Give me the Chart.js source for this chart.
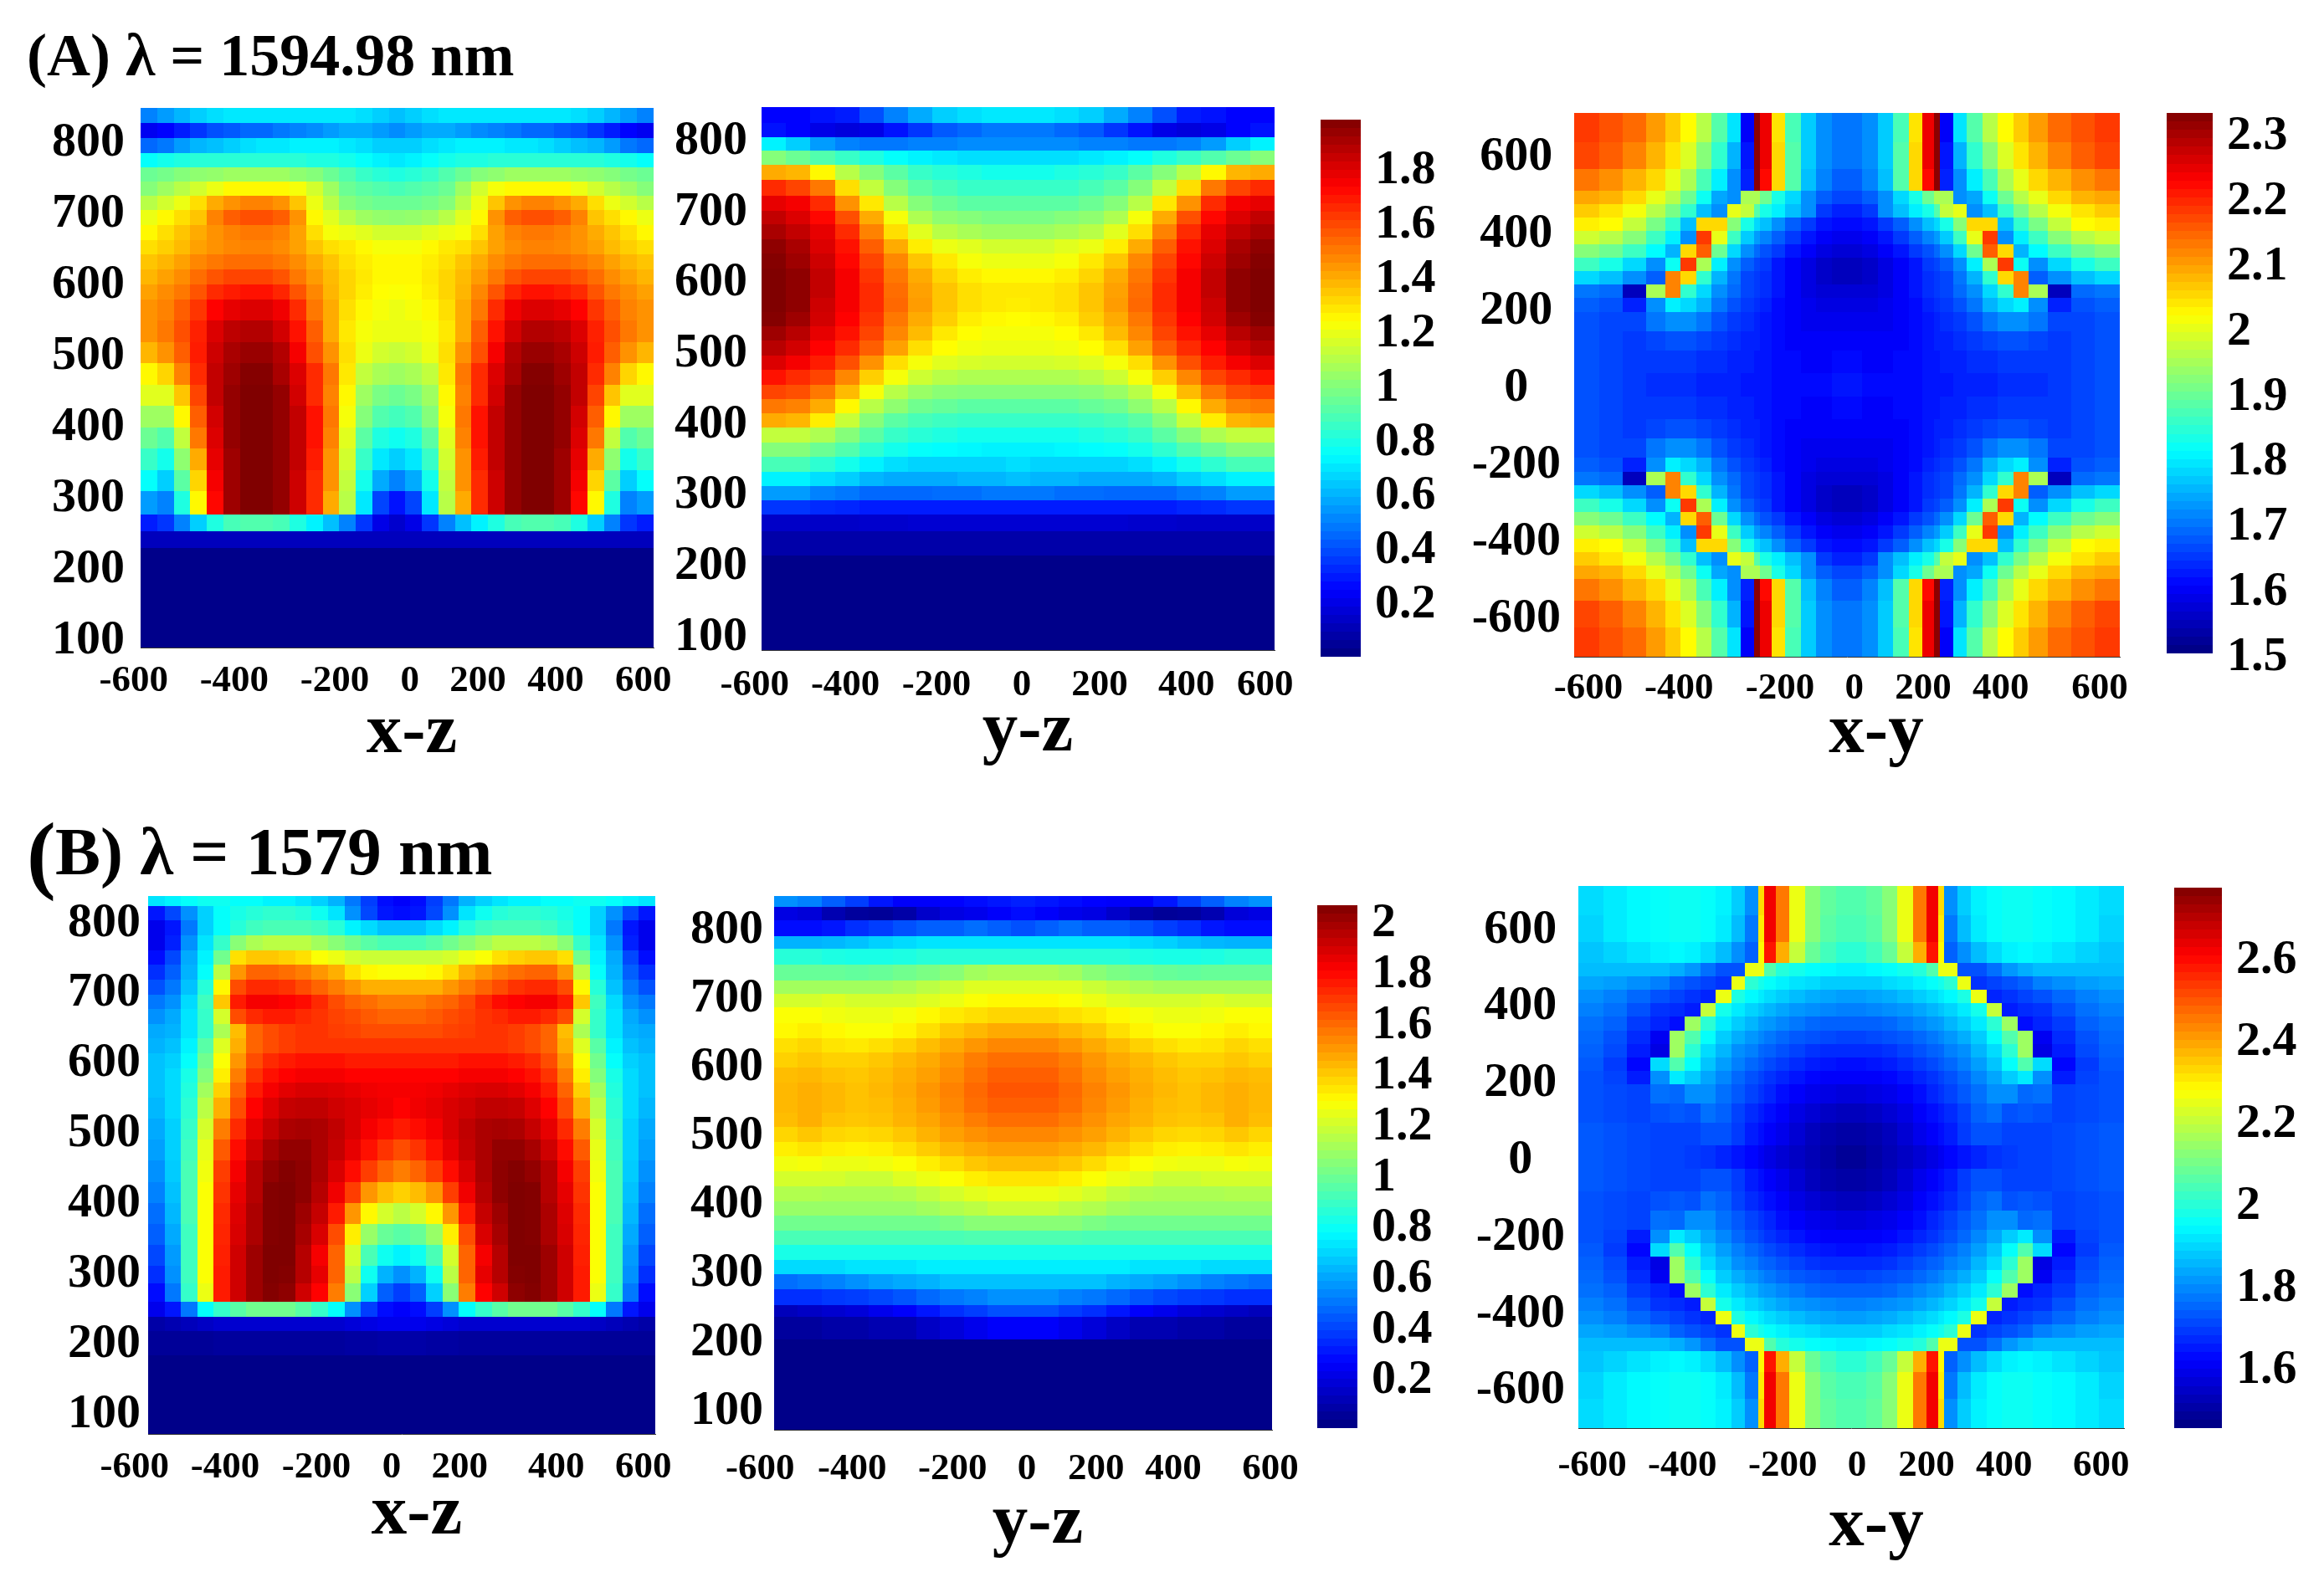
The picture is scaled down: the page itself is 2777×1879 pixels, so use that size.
<!DOCTYPE html>
<html>
<head>
<meta charset="utf-8">
<title>Field maps</title>
<script src="https://cdn.jsdelivr.net/npm/chart.js@4"></script>
<style>
  html, body { margin: 0; padding: 0; background: #fff; }
  #page { position: relative; width: 2777px; height: 1879px; overflow: hidden; font-family: "Liberation Serif", serif; font-weight: bold; color: #000; }
  #page canvas { position: absolute; }
  .lbl { position: absolute; white-space: nowrap; line-height: 1; transform: translate(-50%, -50%); }
  .head { position: absolute; white-space: nowrap; line-height: 1; }
</style>
</head>
<body>
<div id="page"></div>
<script>
// Tick labels
const zTicks = [800, 700, 600, 500, 400, 300, 200, 100];
const xTicks = [-600, -400, -200, 0, 200, 400, 600];
const xyTicks = [600, 400, 200, 0, -200, -400, -600];
const cbTicksA = [1.8, 1.6, 1.4, 1.2, 1, 0.8, 0.6, 0.4, 0.2];
const cbTicksB = [2, 1.8, 1.6, 1.4, 1.2, 1, 0.8, 0.6, 0.4, 0.2];
const cbTicksXyA = [2.3, 2.2, 2.1, 2, 1.9, 1.8, 1.7, 1.6, 1.5];
const cbTicksXyB = [2.6, 2.4, 2.2, 2, 1.8, 1.6];

// Row edges of each map (nm)
const zEdgesAxz = [844,823,802,781,761,740,720,700,679,658,638,617,596,575,545,515,485,455,425,395,365,335,305,272,249,225,85];
const zEdgesAyz = [844,822,802,782,762,741,719,698,678,657,637,616,596,575,555,534,514,493,473,452,432,411,391,370,350,329,309,288,268,245,210,77];
const zEdgesBxz = [834,820,799,778,757,736,715,694,673,652,631,610,589,568,547,517,487,457,427,397,367,337,307,282,256,235,215,180,68];
const zEdgesByz = [845,829,810,787,768,745,722,703,683,660,638,617,595,573,552,530,509,487,466,444,423,401,380,358,337,315,294,272,250,232,200,68];
const xyEdgesX = [-706,-640,-580,-520,-470,-430,-390,-350,-310,-275,-240,-225,-195,-160,-120,-80,-40,0,40,80,120,160,195,225,240,275,310,350,390,430,470,520,580,640,706];
const xyEdgesY = [706,630,560,505,470,435,400,365,330,295,260,225,190,140,90,30,-30,-90,-140,-190,-225,-260,-295,-330,-365,-400,-435,-470,-505,-560,-630,-706];

const fieldAxz = [
[50,55,60,65,68,70,70,70,70,70,70,70,70,68,65,62,65,68,70,70,70,70,70,70,70,70,68,65,60,55,50],
[22,25,30,35,40,42,45,45,48,50,52,55,58,58,55,52,55,58,58,55,52,50,48,45,45,42,40,35,30,25,22],
[45,48,55,60,62,65,68,70,70,72,72,72,70,68,65,65,65,68,70,72,72,72,70,70,68,65,62,60,55,48,45],
[75,78,80,82,82,82,82,82,82,82,80,80,78,75,72,70,72,75,78,80,80,82,82,82,82,82,82,82,80,78,75],
[95,97,100,102,103,105,105,105,105,102,100,95,90,85,82,80,82,85,90,95,100,102,105,105,105,105,103,102,100,97,95],
[100,105,110,115,120,125,125,125,125,122,115,105,95,92,90,88,90,92,95,105,115,122,125,125,125,125,120,115,110,105,100],
[110,115,120,130,140,145,148,148,145,135,120,110,100,97,95,95,95,97,100,110,120,135,145,148,148,145,140,130,120,115,110],
[120,125,130,135,148,155,158,158,155,145,125,118,110,105,103,102,103,105,110,118,125,145,155,158,158,155,148,135,130,125,120],
[125,130,135,140,145,148,150,150,148,142,130,122,120,118,115,115,115,118,120,122,130,142,148,150,150,148,145,140,135,130,125],
[130,133,137,142,145,147,148,148,146,142,135,130,128,125,122,122,122,125,128,130,135,142,146,148,148,147,145,142,137,133,130],
[135,138,142,147,150,152,152,152,150,146,140,135,130,127,125,125,125,127,130,135,140,146,150,152,152,152,150,147,142,138,135],
[138,142,146,152,157,160,160,160,157,150,143,137,132,128,125,125,125,128,132,137,143,150,157,160,160,160,157,152,146,142,138],
[142,146,150,157,165,168,170,170,166,157,147,138,132,127,124,123,124,127,132,138,147,157,166,170,170,168,165,157,150,146,142],
[145,148,155,163,173,178,180,180,176,165,150,140,130,125,122,120,122,125,130,140,150,165,176,180,180,178,173,163,155,148,145],
[145,150,158,167,180,186,188,188,182,170,155,140,128,122,120,120,120,122,128,140,155,170,182,188,188,186,180,167,158,150,145],
[138,145,155,168,183,190,193,193,188,175,158,145,130,120,115,113,115,120,130,145,158,175,188,193,193,190,183,168,155,145,138],
[125,132,148,165,185,192,197,197,190,180,165,150,128,112,107,105,107,112,128,150,165,180,190,197,197,192,185,165,148,132,125],
[118,118,135,160,185,194,198,198,194,182,165,148,125,105,98,95,98,105,125,148,165,182,194,198,198,194,185,160,135,118,118],
[105,105,125,155,182,194,198,198,194,185,170,150,122,100,90,87,90,100,122,150,170,185,194,198,198,194,182,155,125,105,105],
[95,90,112,150,180,194,198,198,194,185,170,148,118,92,80,77,80,92,118,148,170,185,194,198,198,194,180,150,112,90,95],
[85,78,102,140,178,192,198,198,194,185,168,145,115,85,70,65,70,85,115,145,168,185,194,198,198,192,178,140,102,78,85],
[75,65,92,132,175,192,198,198,194,183,165,145,112,78,58,50,58,78,112,145,165,183,194,198,198,192,175,132,92,65,75],
[55,50,80,125,172,192,198,198,194,183,165,140,110,70,38,28,38,70,110,140,165,183,194,198,198,192,172,125,80,50,55],
[30,35,50,65,80,88,90,90,88,80,72,62,50,35,20,15,20,35,50,62,72,80,88,90,90,88,80,65,50,35,30],
[12,12,12,12,12,12,12,12,12,12,12,12,12,12,12,12,12,12,12,12,12,12,12,12,12,12,12,12,12,12,12],
[2,2,2,2,2,2,2,2,2,2,2,2,2,2,2,2,2,2,2,2,2,2,2,2,2,2,2,2,2,2,2]
];

const fieldAyz = [
[25,25,28,30,40,50,58,65,68,70,70,70,68,65,58,50,40,30,28,25,25],
[28,25,20,18,20,28,35,42,45,48,48,48,45,42,35,28,20,18,20,25,28],
[72,65,55,50,48,48,50,50,52,52,52,52,52,50,50,48,48,50,55,65,72],
[100,95,90,85,80,75,72,70,68,68,68,68,68,70,72,75,80,85,90,95,100],
[140,138,125,110,100,92,85,82,80,78,78,78,80,82,85,92,100,110,125,138,140],
[165,160,150,130,112,100,92,88,85,85,85,85,85,88,92,100,112,130,150,160,165],
[178,175,165,145,128,110,100,95,92,92,92,92,92,95,100,110,128,145,165,175,178],
[185,180,172,158,140,122,108,102,100,98,98,98,100,102,108,122,140,158,172,180,185],
[190,185,178,165,148,130,118,110,107,105,105,105,107,110,118,130,148,165,178,185,190],
[195,190,180,170,155,140,127,120,118,115,115,115,118,120,127,140,155,170,180,190,195],
[197,192,183,172,160,147,135,128,122,120,120,120,122,128,135,147,160,172,183,192,197],
[198,195,185,175,163,150,140,132,127,125,125,125,127,132,140,150,163,175,185,195,198],
[198,195,185,175,165,152,142,135,130,128,128,128,130,135,142,152,165,175,185,195,198],
[198,195,183,175,165,153,143,135,130,128,127,128,130,135,143,153,165,175,183,195,198],
[197,192,182,173,163,150,140,133,127,125,124,125,127,133,140,150,163,173,182,192,197],
[192,187,178,170,160,147,137,128,124,122,122,122,124,128,137,147,160,170,178,187,192],
[187,182,173,165,155,142,130,124,121,120,120,120,121,124,130,142,155,165,173,182,187],
[180,175,168,158,145,130,122,118,116,115,115,115,116,118,122,130,145,158,168,175,180],
[170,165,160,147,133,122,114,110,108,108,108,108,108,110,114,122,133,147,160,165,170],
[160,158,150,137,122,110,104,101,100,100,100,100,100,101,104,110,122,137,150,158,160],
[150,148,140,125,110,102,96,94,92,92,92,92,92,94,96,102,110,125,140,148,150],
[140,138,127,113,100,92,88,86,85,85,85,85,85,86,88,92,100,113,127,138,140],
[112,112,108,100,92,85,82,80,78,78,78,78,78,80,82,85,92,100,108,112,112],
[100,100,95,90,83,78,75,74,73,72,72,72,73,74,75,78,83,90,95,100,100],
[88,88,83,78,72,68,66,66,66,66,68,66,66,66,66,68,72,78,83,88,88],
[72,72,68,65,60,58,58,58,60,60,62,60,60,58,58,58,60,65,68,72,72],
[55,55,50,48,45,45,45,46,46,48,48,48,46,46,45,45,45,48,50,55,55],
[35,35,33,32,30,30,30,30,30,30,30,30,30,30,30,30,30,32,33,35,35],
[14,14,14,14,15,15,16,16,16,16,16,16,16,16,16,15,15,14,14,14,14],
[8,8,8,8,8,8,8,8,8,8,8,8,8,8,8,8,8,8,8,8,8],
[2,2,2,2,2,2,2,2,2,2,2,2,2,2,2,2,2,2,2,2,2]
];

const fieldAxy = [
[218,216,214,210,206,202,196,188,179,160,232,224,204,187,177,172,170,170,172,177,187,204,224,232,160,179,188,196,202,206,210,214,216,218],
[217,215,212,208,204,199,192,185,175,162,232,224,205,188,177,172,170,170,172,177,188,205,224,232,162,175,185,192,199,204,208,212,215,217],
[213,211,208,205,200,195,187,180,172,163,232,222,205,188,176,171,168,168,171,176,188,205,222,232,163,172,180,187,195,200,205,208,211,213],
[209,208,205,200,196,190,182,174,172,195,195,190,183,178,172,168,166,166,168,172,178,183,190,195,195,172,174,182,190,196,200,205,208,209],
[206,204,201,196,191,185,176,172,200,197,188,183,180,176,172,165,163,163,165,172,176,180,183,188,197,200,172,176,185,191,196,201,204,206],
[203,202,197,191,185,176,205,205,192,183,178,176,172,168,165,162,161,161,162,165,168,172,176,178,183,192,205,205,176,185,191,197,202,203],
[198,196,192,186,180,172,218,200,186,177,173,171,168,165,162,160,159,159,160,162,165,168,171,173,177,186,200,218,172,180,186,192,196,198],
[192,190,186,181,175,205,215,190,178,172,169,167,165,162,160,158,157,157,158,160,162,165,167,169,172,178,190,215,205,175,181,186,190,192],
[186,183,178,172,182,218,195,180,172,168,166,165,162,160,158,156,155,155,156,158,160,162,165,166,168,172,180,195,218,182,172,178,183,186],
[178,176,172,168,212,205,185,175,170,166,165,164,162,160,158,156,155,155,156,158,160,162,164,165,166,170,175,185,205,212,168,172,176,178],
[170,169,155,195,212,185,178,172,169,166,165,164,162,160,158,157,157,157,157,158,160,162,164,165,166,169,172,178,185,212,195,155,169,170],
[168,167,163,172,180,178,175,170,167,165,164,163,161,160,159,158,158,158,158,159,160,161,163,164,165,167,170,175,178,180,172,163,167,168],
[167,166,166,170,172,172,170,167,165,164,163,162,161,160,159,159,159,159,159,159,160,161,162,163,164,165,167,170,172,172,170,166,166,167],
[167,166,165,166,167,167,166,165,164,163,163,162,161,160,160,160,160,160,160,160,160,161,162,163,163,164,165,166,167,167,166,165,166,167],
[167,166,165,165,165,165,164,164,163,163,162,162,161,161,160,160,161,161,160,160,161,161,162,162,163,163,164,164,165,165,165,165,166,167],
[167,166,165,164,164,164,163,163,163,162,162,162,161,161,161,161,162,162,161,161,161,161,162,162,162,163,163,163,164,164,164,165,166,167],
[167,166,165,165,165,165,164,164,163,163,162,162,161,161,160,160,161,161,160,160,161,161,162,162,163,163,164,164,165,165,165,165,166,167],
[167,166,165,166,167,167,166,165,164,163,163,162,161,160,160,160,160,160,160,160,160,161,162,163,163,164,165,166,167,167,166,165,166,167],
[167,166,166,170,172,172,170,167,165,164,163,162,161,160,159,159,159,159,159,159,160,161,162,163,164,165,167,170,172,172,170,166,166,167],
[168,167,163,172,180,178,175,170,167,165,164,163,161,160,159,158,158,158,158,159,160,161,163,164,165,167,170,175,178,180,172,163,167,168],
[170,169,155,195,212,185,178,172,169,166,165,164,162,160,158,157,157,157,157,158,160,162,164,165,166,169,172,178,185,212,195,155,169,170],
[178,176,172,168,212,205,185,175,170,166,165,164,162,160,158,156,155,155,156,158,160,162,164,165,166,170,175,185,205,212,168,172,176,178],
[186,183,178,172,182,218,195,180,172,168,166,165,162,160,158,156,155,155,156,158,160,162,165,166,168,172,180,195,218,182,172,178,183,186],
[192,190,186,181,175,205,215,190,178,172,169,167,165,162,160,158,157,157,158,160,162,165,167,169,172,178,190,215,205,175,181,186,190,192],
[198,196,192,186,180,172,218,200,186,177,173,171,168,165,162,160,159,159,160,162,165,168,171,173,177,186,200,218,172,180,186,192,196,198],
[203,202,197,191,185,176,205,205,192,183,178,176,172,168,165,162,161,161,162,165,168,172,176,178,183,192,205,205,176,185,191,197,202,203],
[206,204,201,196,191,185,176,172,200,197,188,183,180,176,172,165,163,163,165,172,176,180,183,188,197,200,172,176,185,191,196,201,204,206],
[209,208,205,200,196,190,182,174,172,195,195,190,183,178,172,168,166,166,168,172,178,183,190,195,195,172,174,182,190,196,200,205,208,209],
[213,211,208,205,200,195,187,180,172,163,232,222,205,188,176,171,168,168,171,176,188,205,222,232,163,172,180,187,195,200,205,208,211,213],
[217,215,212,208,204,199,192,185,175,162,232,224,205,188,177,172,170,170,172,177,188,205,224,232,162,175,185,192,199,204,208,212,215,217],
[218,216,214,210,206,202,196,188,179,160,232,224,204,187,177,172,170,170,172,177,187,204,224,232,160,179,188,196,202,206,210,214,216,218]
];

const fieldBxz = [
[72,75,78,80,80,78,78,75,75,72,68,62,50,38,28,25,28,38,50,62,68,72,75,75,78,78,80,80,78,75,72],
[30,40,55,68,78,82,85,87,87,85,80,72,55,40,30,28,30,40,55,72,80,85,87,87,85,82,78,68,55,40,30],
[22,30,50,68,78,85,90,92,92,92,90,85,75,70,65,65,65,70,75,85,90,92,92,92,90,85,78,68,50,30,22],
[22,32,55,72,88,105,112,115,115,115,110,105,100,95,92,92,92,95,100,105,110,115,115,115,112,105,88,72,55,32,22],
[28,40,60,75,100,135,140,140,138,135,128,125,120,118,118,118,118,118,120,125,128,135,138,140,140,135,100,75,60,40,28],
[35,45,62,78,115,150,160,160,158,155,150,145,135,130,128,128,128,130,135,145,150,155,158,160,160,150,115,78,62,45,35],
[42,50,65,85,130,165,172,172,170,165,160,155,150,145,145,145,145,145,150,155,160,165,170,172,172,165,130,85,65,50,42],
[50,55,70,90,140,175,182,182,180,178,172,165,160,158,155,155,155,158,160,165,172,178,180,182,182,175,140,90,70,55,50],
[55,60,72,88,120,165,172,175,175,172,170,167,165,162,160,160,160,162,165,167,170,172,175,175,172,165,120,88,72,60,55],
[60,62,72,88,112,142,160,165,168,170,170,168,167,165,165,165,165,165,167,168,170,170,168,165,160,142,112,88,72,62,60],
[62,65,75,95,122,145,160,165,168,170,170,170,170,170,170,170,170,170,170,170,170,170,168,165,160,145,122,95,75,65,62],
[65,68,78,100,128,150,165,172,175,177,177,177,175,175,175,175,175,175,175,177,177,177,175,172,165,150,128,100,78,68,65],
[65,70,82,104,132,155,170,177,180,182,182,182,180,180,180,180,180,180,180,182,182,182,180,177,170,155,132,104,82,70,65],
[65,70,84,110,138,160,175,182,186,188,188,187,185,183,182,182,182,183,185,187,188,188,186,182,175,160,138,110,84,70,65],
[63,70,86,115,145,165,180,187,192,193,193,190,188,185,183,180,183,185,188,190,193,193,192,187,180,165,145,115,86,70,63],
[60,68,88,120,155,172,185,192,197,198,197,193,188,182,178,175,178,182,188,193,197,198,197,192,185,172,155,120,88,68,60],
[58,68,90,124,162,178,190,198,202,202,197,192,185,177,170,165,170,177,185,192,197,202,202,198,190,178,162,124,90,68,58],
[55,67,92,126,168,182,195,202,205,203,197,188,178,168,160,155,160,168,178,188,197,203,205,202,195,182,168,126,92,67,55],
[52,65,92,128,170,185,195,205,206,203,195,183,168,150,142,138,142,150,168,183,195,203,206,205,195,185,170,128,92,65,52],
[48,63,92,128,172,187,197,205,206,200,192,175,150,130,120,115,120,130,150,175,192,200,206,205,197,187,172,128,92,63,48],
[45,60,90,128,173,188,197,205,206,198,188,165,132,108,98,95,98,108,132,165,188,198,206,205,197,188,173,128,90,60,45],
[40,57,90,128,174,190,200,206,206,195,182,160,120,92,80,75,80,92,120,160,182,195,206,206,200,190,174,128,90,57,40],
[35,55,90,128,175,190,200,206,205,195,185,160,115,80,62,55,62,80,115,160,185,195,205,206,200,190,175,128,90,55,35],
[28,50,88,125,175,190,200,205,203,190,180,155,105,68,45,38,45,68,105,155,180,190,203,205,200,190,175,125,88,50,28],
[22,30,50,78,88,95,100,100,100,95,88,78,55,38,28,25,28,38,55,78,88,95,100,100,100,95,88,78,50,30,22],
[8,10,12,14,16,16,16,16,16,16,16,16,18,20,22,22,22,20,18,16,16,16,16,16,16,16,16,14,12,10,8],
[5,5,5,5,6,6,6,6,6,6,6,6,7,7,8,8,8,7,7,6,6,6,6,6,6,6,6,5,5,5,5],
[2,2,2,2,2,2,2,2,2,2,2,2,2,2,2,2,2,2,2,2,2,2,2,2,2,2,2,2,2,2,2]
];

const fieldByz = [
[55,52,45,38,30,25,25,26,28,30,32,30,28,26,25,25,30,38,45,52,55],
[20,18,10,6,5,8,15,20,22,25,28,25,22,20,15,8,5,6,10,18,20],
[28,28,30,35,38,42,45,45,48,45,42,45,48,45,45,42,38,35,30,28,28],
[62,62,63,65,68,70,72,72,72,72,72,72,72,72,72,70,68,65,63,62,62],
[85,85,83,82,82,83,85,85,85,85,85,85,85,85,85,83,82,82,83,85,85],
[98,98,98,97,98,100,102,105,110,112,112,112,110,105,102,100,98,97,98,98,98],
[110,110,110,110,110,112,115,118,122,122,122,122,122,118,115,112,110,110,110,110,110],
[120,120,122,120,120,120,122,125,128,130,130,130,128,125,122,120,120,120,122,120,120],
[128,128,126,125,125,127,130,133,135,137,137,137,135,133,130,127,125,125,126,128,128],
[130,132,130,128,128,131,135,140,143,146,146,146,143,140,135,131,128,128,130,132,130],
[135,137,134,133,135,138,142,146,150,153,153,153,150,146,142,138,135,133,134,137,135],
[138,140,138,138,140,143,146,150,155,158,158,158,155,150,146,143,140,138,138,140,138],
[142,143,141,140,142,145,148,152,157,161,161,161,157,152,148,145,142,140,141,143,142],
[143,145,143,141,143,146,150,154,159,163,163,163,159,154,150,146,143,141,143,145,143],
[143,145,143,141,142,145,149,153,158,161,161,161,158,153,149,145,142,141,143,145,143],
[142,145,141,140,141,144,147,151,155,158,158,158,155,151,147,144,141,140,141,145,142],
[137,140,137,136,137,140,144,148,151,153,153,153,151,148,144,140,137,136,137,140,137],
[132,134,132,131,132,135,139,143,146,148,148,148,146,143,139,135,132,131,132,134,132],
[126,127,125,125,126,128,132,136,140,142,142,142,140,136,132,128,126,125,125,127,126],
[120,120,120,118,118,122,125,128,132,134,134,134,132,128,125,122,118,118,120,120,120],
[113,113,112,112,112,113,116,120,123,125,125,125,123,120,116,113,112,112,112,113,113],
[108,108,108,108,108,108,110,113,115,118,118,118,115,113,110,108,108,108,108,108,108],
[100,100,100,100,100,100,100,102,105,105,105,105,105,102,100,100,100,100,100,100,100],
[92,92,92,92,92,92,92,92,93,93,93,93,93,92,92,92,92,92,92,92,92],
[82,82,82,82,82,82,82,82,82,82,82,82,82,82,82,82,82,82,82,82,82],
[70,70,70,72,72,72,74,74,74,74,74,74,74,74,74,72,72,72,70,70,70],
[48,50,52,55,58,60,62,65,65,65,65,65,65,65,62,60,58,55,52,50,48],
[35,35,37,38,40,43,47,50,52,55,55,55,52,50,47,43,40,38,37,35,35],
[12,14,16,18,22,25,30,35,38,42,42,42,38,35,30,25,22,18,16,14,12],
[6,6,8,8,10,10,14,18,22,25,25,25,22,18,14,10,10,8,8,6,6],
[2,2,2,2,2,2,2,2,2,2,2,2,2,2,2,2,2,2,2,2,2]
];

const fieldBxy = [
[190,192,194,195,196,196,195,193,188,180,232,262,245,225,212,207,205,205,207,212,225,245,262,232,180,188,193,195,196,196,195,194,192,190],
[189,192,194,195,196,196,195,192,186,177,230,262,245,225,212,206,204,204,206,212,225,245,262,230,177,186,192,195,196,196,195,194,192,189],
[187,189,191,193,194,193,190,186,180,174,228,258,238,220,208,203,200,200,203,208,220,238,258,228,174,180,186,190,193,194,193,191,189,187],
[186,186,186,186,184,181,176,172,172,225,225,205,199,197,195,194,193,193,194,195,197,199,205,225,225,172,172,176,181,184,186,186,186,186],
[183,182,180,178,174,172,170,168,225,200,197,195,193,191,190,188,188,188,188,190,191,193,195,197,200,225,168,170,172,174,178,180,182,183],
[180,178,175,172,170,168,166,225,198,194,192,190,188,186,184,183,182,182,183,184,186,188,190,192,194,198,225,166,168,170,172,175,178,180],
[178,176,172,168,167,165,220,197,192,189,187,185,183,181,180,179,178,178,179,180,181,183,185,187,189,192,197,220,165,167,168,172,176,178],
[176,174,169,166,163,215,200,192,188,185,182,181,179,177,175,174,174,174,174,175,177,179,181,182,185,188,192,200,215,163,166,169,174,176],
[175,172,167,160,215,205,195,188,184,181,179,177,175,173,172,171,170,170,171,172,173,175,177,179,181,184,188,195,205,215,160,167,172,175],
[174,171,165,158,215,200,190,185,180,178,175,174,172,170,168,167,167,167,167,168,170,172,174,175,178,180,185,190,200,215,158,165,171,174],
[173,169,162,190,205,195,187,182,178,175,173,171,169,167,165,164,163,163,164,165,167,169,171,173,175,178,182,187,195,205,190,162,169,173],
[172,170,165,180,192,188,183,179,175,172,170,168,166,164,162,161,161,161,161,162,164,166,168,170,172,175,179,183,188,192,180,165,170,172],
[172,171,170,176,175,180,180,176,173,170,168,166,163,161,159,158,157,157,158,159,161,163,166,168,170,173,176,180,180,175,176,170,171,172],
[172,171,170,172,173,172,176,174,170,167,165,163,161,158,156,154,153,153,154,156,158,161,163,165,167,170,174,176,172,173,172,170,171,172],
[173,172,171,170,170,170,172,172,169,165,163,161,159,156,153,151,150,150,151,153,156,159,161,163,165,169,172,172,170,170,170,171,172,173],
[173,172,171,170,170,169,168,166,164,162,160,158,156,154,152,150,148,148,150,152,154,156,158,160,162,164,166,168,169,170,170,171,172,173],
[173,172,171,170,170,170,172,172,169,165,163,161,159,156,153,151,150,150,151,153,156,159,161,163,165,169,172,172,170,170,170,171,172,173],
[172,171,170,172,173,172,176,174,170,167,165,163,161,158,156,154,153,153,154,156,158,161,163,165,167,170,174,176,172,173,172,170,171,172],
[172,171,170,176,175,180,180,176,173,170,168,166,163,161,159,158,157,157,158,159,161,163,166,168,170,173,176,180,180,175,176,170,171,172],
[172,170,165,180,192,188,183,179,175,172,170,168,166,164,162,161,161,161,161,162,164,166,168,170,172,175,179,183,188,192,180,165,170,172],
[173,169,162,190,205,195,187,182,178,175,173,171,169,167,165,164,163,163,164,165,167,169,171,173,175,178,182,187,195,205,190,162,169,173],
[174,171,165,158,215,200,190,185,180,178,175,174,172,170,168,167,167,167,167,168,170,172,174,175,178,180,185,190,200,215,158,165,171,174],
[175,172,167,160,215,205,195,188,184,181,179,177,175,173,172,171,170,170,171,172,173,175,177,179,181,184,188,195,205,215,160,167,172,175],
[176,174,169,166,163,215,200,192,188,185,182,181,179,177,175,174,174,174,174,175,177,179,181,182,185,188,192,200,215,163,166,169,174,176],
[178,176,172,168,167,165,220,197,192,189,187,185,183,181,180,179,178,178,179,180,181,183,185,187,189,192,197,220,165,167,168,172,176,178],
[180,178,175,172,170,168,166,225,198,194,192,190,188,186,184,183,182,182,183,184,186,188,190,192,194,198,225,166,168,170,172,175,178,180],
[183,182,180,178,174,172,170,168,225,200,197,195,193,191,190,188,188,188,188,190,191,193,195,197,200,225,168,170,172,174,178,180,182,183],
[186,186,186,186,184,181,176,172,172,225,225,205,199,197,195,194,193,193,194,195,197,199,205,225,225,172,172,176,181,184,186,186,186,186],
[187,189,191,193,194,193,190,186,180,174,228,258,238,220,208,203,200,200,203,208,220,238,258,228,174,180,186,190,193,194,193,191,189,187],
[189,192,194,195,196,196,195,192,186,177,230,262,245,225,212,206,204,204,206,212,225,245,262,230,177,186,192,195,196,196,195,194,192,189],
[190,192,194,195,196,196,195,193,188,180,232,262,245,225,212,207,205,205,207,212,225,245,262,232,180,188,193,195,196,196,195,194,192,190]
];

const page = document.getElementById('page');
const serif = 'Liberation Serif, serif';

// Matlab style jet colour map
function jet(t) {
    const c = v => Math.round(255 * Math.max(0, Math.min(1, v)));
    t = Math.max(0, Math.min(1, t));
    return `rgb(${c(1.5 - Math.abs(4 * t - 3))},${c(1.5 - Math.abs(4 * t - 2))},${c(1.5 - Math.abs(4 * t - 1))})`;
}

function evenEdges(lo, hi, n) {
    const out = [];
    for (let i = 0; i <= n; i++) out.push(lo + (hi - lo) * i / n);
    return out;
}

// Turn a value table into one point per cell
function cellsFrom(rows, xEdges, yEdges) {
    const cells = [];
    rows.forEach((row, j) => row.forEach((v, i) => {
        cells.push({
            x: (xEdges[i] + xEdges[i + 1]) / 2, y: (yEdges[j] + yEdges[j + 1]) / 2,
            x0: xEdges[i], x1: xEdges[i + 1], y0: yEdges[j], y1: yEdges[j + 1], v: v
        });
    }));
    return cells;
}

// Paints the cells through the chart's own x and y scales
const heatCells = {
    id: 'heatCells',
    beforeDatasetsDraw(chart, args, opts) {
        const { ctx, scales: { x, y } } = chart;
        chart.data.datasets[0].data.forEach(c => {
            const l = Math.round(x.getPixelForValue(c.x0)), r = Math.round(x.getPixelForValue(c.x1));
            const t = Math.round(y.getPixelForValue(c.y0)), b = Math.round(y.getPixelForValue(c.y1));
            ctx.fillStyle = jet((c.v - opts.min) / (opts.max - opts.min));
            ctx.fillRect(Math.min(l, r), Math.min(t, b), Math.abs(r - l), Math.abs(b - t));
        });
    }
};

function addCanvas(left, top, w, h) {
    const cv = document.createElement('canvas');
    cv.width = w; cv.height = h;
    cv.style.left = left + 'px'; cv.style.top = top + 'px';
    cv.style.width = w + 'px'; cv.style.height = h + 'px';
    page.appendChild(cv);
    return cv;
}

function placeTicks(scale, at, labels) {
    scale.ticks = at.map((v, i) => ({ value: v, label: String(labels[i]) }));
}

// Labels sit a few px above the tick value in the original figure
function nudged(values, px, lo, hi, height) {
    return values.map(v => v - px * (hi - lo) / height);
}

// The plot box stays where it is asked to be, whatever the labels overhang
function fixBox(scale, w, h) {
    if (w) scale.width = w;
    if (h) scale.height = h;
    scale.paddingTop = scale.paddingBottom = scale.paddingLeft = scale.paddingRight = 0;
}

function drawMap(p) {
    const axisW = 150, axisH = 70, padT = 30, padR = 50;
    const [left, top, right, bottom] = p.box;
    const cv = addCanvas(left - axisW, top - padT, axisW + right - left + padR, padT + bottom - top + axisH);
    const x0 = p.xEdges[0], x1 = p.xEdges[p.xEdges.length - 1];
    const y0 = p.yEdges[p.yEdges.length - 1], y1 = p.yEdges[0];
    const yAt = nudged(p.yTicks, p.yNudge, y0, y1, bottom - top);
    new Chart(cv, {
        type: 'scatter',
        data: { datasets: [{ data: cellsFrom(p.rows, p.xEdges, p.yEdges), pointRadius: 0 }] },
        plugins: [heatCells],
        options: {
            responsive: false, animation: false, events: [],
            layout: { padding: { top: padT, right: padR, left: 0, bottom: 0 } },
            plugins: { legend: { display: false }, tooltip: { enabled: false }, heatCells: { min: p.min, max: p.max } },
            scales: {
                x: {
                    type: 'linear', min: x0, max: x1,
                    grid: { display: false }, border: { display: true, color: '#333', width: 1 },
                    afterFit: s => fixBox(s, 0, axisH),
                    afterBuildTicks: s => placeTicks(s, p.xAt, xTicks),
                    afterTickToLabelConversion: s => s.ticks.forEach((t, i) => { t.label = String(xTicks[i]); }),
                    ticks: { autoSkip: false, maxRotation: 0, padding: p.xPad, color: '#000', font: { family: serif, weight: 'bold', size: 45 } }
                },
                y: {
                    type: 'linear', min: y0, max: y1,
                    grid: { display: false }, border: { display: true, color: '#333', width: 1 },
                    afterFit: s => fixBox(s, axisW, 0),
                    afterBuildTicks: s => placeTicks(s, yAt, p.yTicks),
                    afterTickToLabelConversion: s => s.ticks.forEach((t, i) => { t.label = String(p.yTicks[i]); }),
                    ticks: { autoSkip: false, padding: p.yPad, crossAlign: p.crossAlign, color: '#000', font: { family: serif, weight: 'bold', size: 58 } }
                }
            }
        }
    });
}

function drawBar(p) {
    const axisW = 110, pad = 36;
    const [left, top, right, bottom] = p.box;
    const cv = addCanvas(left, top - pad, right - left + axisW, bottom - top + pad * 2);
    const steps = 64, levels = [], edges = evenEdges(p.max, p.min, steps);
    for (let i = 0; i < steps; i++) levels.push([(edges[i] + edges[i + 1]) / 2]);
    const yAt = nudged(p.ticks, p.nudge, p.min, p.max, bottom - top);
    new Chart(cv, {
        type: 'scatter',
        data: { datasets: [{ data: cellsFrom(levels, [0, 1], edges), pointRadius: 0 }] },
        plugins: [heatCells],
        options: {
            responsive: false, animation: false, events: [],
            layout: { padding: { top: pad, bottom: pad, left: 0, right: 0 } },
            plugins: { legend: { display: false }, tooltip: { enabled: false }, heatCells: { min: p.min, max: p.max } },
            scales: {
                x: { type: 'linear', min: 0, max: 1, display: false },
                y: {
                    type: 'linear', position: 'right', min: p.min, max: p.max,
                    grid: { display: false }, border: { display: false },
                    afterFit: s => fixBox(s, axisW, 0),
                    afterBuildTicks: s => placeTicks(s, yAt, p.ticks),
                    afterTickToLabelConversion: s => s.ticks.forEach((t, i) => { t.label = String(p.ticks[i]); }),
                    ticks: { autoSkip: false, padding: 9, color: '#000', font: { family: serif, weight: 'bold', size: 58 } }
                }
            }
        }
    });
}

function text(str, cx, cy, size) {
    const d = document.createElement('div');
    d.className = 'lbl';
    d.textContent = str;
    d.style.left = cx + 'px'; d.style.top = cy + 'px'; d.style.fontSize = size + 'px';
    page.appendChild(d);
}

function head(str, left, top, size) {
    const d = document.createElement('div');
    d.className = 'head';
    d.textContent = str;
    d.style.left = left + 'px'; d.style.top = top + 'px'; d.style.fontSize = size + 'px';
    page.appendChild(d);
}

const xz31 = evenEdges(-600, 600, 31), yz21 = evenEdges(-600, 600, 21);

drawMap({ box: [168, 129, 781, 774], rows: fieldAxz, xEdges: xz31, yEdges: zEdgesAxz, min: 0, max: 198,
    xAt: [-616, -381, -146, 30, 189, 371, 576], xPad: 5, yTicks: zTicks, yPad: 11, yNudge: 5, crossAlign: 'near' });
drawMap({ box: [910, 128, 1523, 777], rows: fieldAyz, xEdges: yz21, yEdges: zEdgesAyz, min: 0, max: 198,
    xAt: [-616, -404, -191, 9, 191, 394, 578], xPad: 7, yTicks: zTicks, yPad: 9, yNudge: 4, crossAlign: 'near' });
drawMap({ box: [1881, 135, 2533, 785], rows: fieldAxy, xEdges: xyEdgesX, yEdges: xyEdgesY, min: 150, max: 233,
    xAt: [-669, -435, -173, 19, 197, 398, 654], xPad: 3, yTicks: xyTicks, yPad: 8, yNudge: 4, crossAlign: 'center' });
drawMap({ box: [177, 1071, 783, 1714], rows: fieldBxz, xEdges: xz31, yEdges: zEdgesBxz, min: 0, max: 206,
    xAt: [-632, -418, -202, -24, 137, 366, 572], xPad: 5, yTicks: zTicks, yPad: 1, yNudge: 4, crossAlign: 'near' });
drawMap({ box: [925, 1071, 1520, 1709], rows: fieldByz, xEdges: yz21, yEdges: zEdgesByz, min: 0, max: 206,
    xAt: [-634, -412, -170, 9, 176, 362, 596], xPad: 12, yTicks: zTicks, yPad: 5, yNudge: 4, crossAlign: 'near' });
drawMap({ box: [1886, 1059, 2538, 1707], rows: fieldBxy, xEdges: xyEdgesX, yEdges: xyEdgesY, min: 145, max: 277,
    xAt: [-670, -437, -177, 15, 195, 396, 647], xPad: 10, yTicks: xyTicks, yPad: 8, yNudge: 4, crossAlign: 'center' });

drawBar({ box: [1578, 143, 1626, 785], min: 0, max: 1.98, ticks: cbTicksA, nudge: 3 });
drawBar({ box: [2589, 135, 2644, 781], min: 1.5, max: 2.33, ticks: cbTicksXyA, nudge: 5 });
drawBar({ box: [1574, 1082, 1622, 1707], min: 0, max: 2.06, ticks: cbTicksB, nudge: 4 });
drawBar({ box: [2598, 1061, 2655, 1707], min: 1.45, max: 2.77, ticks: cbTicksXyB, nudge: 4 });

head('(A) \u03bb = 1594.98 nm', 32, 30, 72);
head('(', 32, 968, 104);
head('B) \u03bb = 1579 nm', 66, 978, 81);

text('x-z', 492, 870, 85);
text('y-z', 1228, 868, 85);
text('x-y', 2242, 870, 85);
text('x-z', 498, 1804, 85);
text('y-z', 1240, 1815, 85);
text('x-y', 2242, 1818, 85);
</script>
</body>
</html>
